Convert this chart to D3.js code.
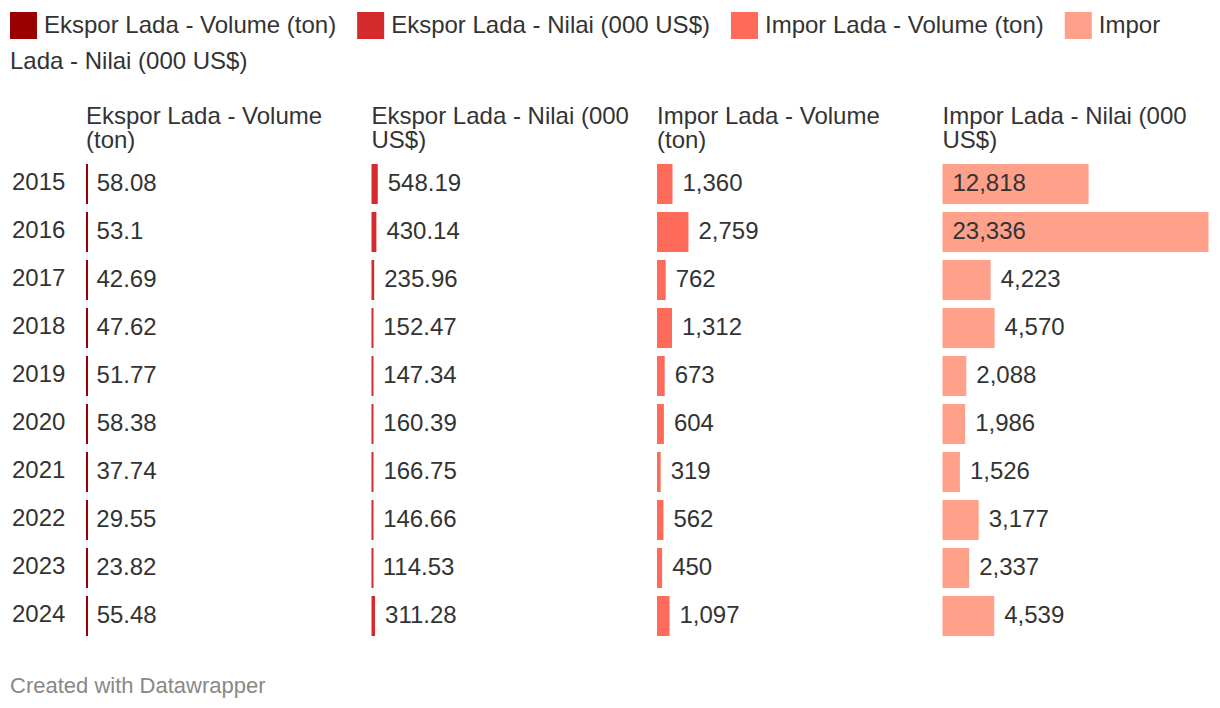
<!DOCTYPE html>
<html>
<head>
<meta charset="utf-8">
<script src="https://cdn.jsdelivr.net/npm/d3@7/dist/d3.min.js"></script>
<style>
  body { margin: 0; background: #fff; }
  svg text { font-family: "Liberation Sans", Arial, Helvetica, sans-serif; fill: #333; }
</style>
</head>
<body>
<svg id="chart" width="1220" height="708"></svg>
<script>
// data
const years = ["2015","2016","2017","2018","2019","2020","2021","2022","2023","2024"];
const seriesNames = ["Ekspor Lada - Volume (ton)", "Ekspor Lada - Nilai (000 US$)",
                     "Impor Lada - Volume (ton)", "Impor Lada - Nilai (000 US$)"];
const eksporVolume = [58.08, 53.1, 42.69, 47.62, 51.77, 58.38, 37.74, 29.55, 23.82, 55.48];
const eksporNilai  = [548.19, 430.14, 235.96, 152.47, 147.34, 160.39, 166.75, 146.66, 114.53, 311.28];
const imporVolume  = [1360, 2759, 762, 1312, 673, 604, 319, 562, 450, 1097];
const imporNilai   = [12818, 23336, 4223, 4570, 2088, 1986, 1526, 3177, 2337, 4539];
const colors = ["#9a0000", "#d52a2b", "#ff6a5a", "#ffa08a"];

const series = [eksporVolume, eksporNilai, imporVolume, imporNilai];

const svg = d3.select("#chart");
const fontSize = 24;
const fmt = d3.format(",");

// ---- legend (flowing, wraps like html text)
const legend = svg.append("g").style("font-size", fontSize + "px");
const maxX = 1210, legBase = 32.5, legLine = 36;
let cx = 10, line = 0;
seriesNames.forEach((name, i) => {
  if (cx + 27 > maxX) { line++; cx = 10; }
  legend.append("rect")
    .attr("x", cx).attr("y", 12 + line * legLine)
    .attr("width", 27).attr("height", 27)
    .attr("fill", colors[i]);
  cx += 34;
  const t = legend.append("text");
  let tsp = t.append("tspan").attr("x", cx).attr("y", legBase + line * legLine);
  name.split(" ").forEach(w => {
    const prev = tsp.text();
    tsp.text(prev ? prev + " " + w : w);
    if (prev && cx + tsp.node().getComputedTextLength() > maxX) {
      tsp.text(prev);
      line++; cx = 10;
      tsp = t.append("tspan").attr("x", cx).attr("y", legBase + line * legLine).text(w);
    }
  });
  cx += tsp.node().getComputedTextLength() + 21;
});

// ---- layout
const colW = 266;
const cols = d3.scaleBand().domain(d3.range(4)).range([86, 86 + 285.5 * 4]);
const y = d3.scaleBand().domain(years).range([164, 164 + 48 * years.length - 8]).paddingInner(8 / 48);
const x = d3.scaleLinear().domain([0, d3.max(series.flat())]).range([0, colW]);

// year labels
svg.append("g").selectAll("text").data(years).join("text")
  .attr("x", 12)
  .attr("y", d => y(d) + y.bandwidth() / 2 + 5.6)
  .style("font-size", fontSize + "px")
  .text(d => d);

function wrap(textSel, width, lh) {
  textSel.each(function () {
    const t = d3.select(this);
    const words = t.text().split(" ");
    const x0 = t.attr("x"), y0 = +t.attr("y");
    t.text(null);
    let ln = 0;
    let tsp = t.append("tspan").attr("x", x0).attr("y", y0);
    words.forEach(w => {
      const prev = tsp.text();
      tsp.text(prev ? prev + " " + w : w);
      if (prev && tsp.node().getComputedTextLength() > width) {
        tsp.text(prev);
        ln++;
        tsp = t.append("tspan").attr("x", x0).attr("y", y0 + ln * lh).text(w);
      }
    });
  });
}

series.forEach((vals, i) => {
  const g = svg.append("g").attr("transform", `translate(${cols(i)},0)`);
  g.append("text")
    .attr("x", 0).attr("y", 124)
    .style("font-size", fontSize + "px")
    .text(seriesNames[i])
    .call(wrap, colW, 24);

  const rows = years.map((yr, j) => ({ yr, v: vals[j] }));
  g.selectAll("rect").data(rows).join("rect")
    .attr("x", 0)
    .attr("y", d => y(d.yr))
    .attr("width", d => Math.max(2, x(d.v)))
    .attr("height", y.bandwidth())
    .attr("fill", colors[i]);

  g.selectAll("text.val").data(rows).join("text")
    .attr("class", "val")
    .attr("y", d => y(d.yr) + y.bandwidth() / 2 + 6.6)
    .style("font-size", fontSize + "px")
    .text(d => fmt(d.v))
    .attr("x", function (d) {
      const w = this.getComputedTextLength();
      return x(d.v) > w + 20 ? 10 : x(d.v) + 10;
    });
});

svg.append("text")
  .attr("x", 10).attr("y", 693)
  .style("font-size", "22px")
  .style("fill", "#888")
  .text("Created with Datawrapper");
</script>
</body>
</html>
